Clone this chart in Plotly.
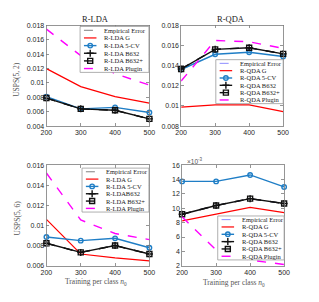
import plotly.graph_objects as go

# ---------------- data ----------------
n_train = [200, 300, 400, 500]
x_ticks = [200, 300, 400, 500]

# R-LDA, USPS(5, 2)
lda52_emp = [0.0079, 0.0064, 0.0062, 0.0050]
lda52_g = [0.0120, 0.0095, 0.0081, 0.0072]
lda52_cv = [0.0081, 0.0064, 0.0066, 0.0059]
lda52_b632 = [0.0079, 0.0064, 0.0062, 0.0050]
lda52_b632p = [0.0079, 0.0064, 0.0062, 0.0050]
lda52_plugin = [0.0175, 0.0138, 0.0113, 0.0097]

# R-QDA, USPS(5, 2)
qda52_emp = [0.01368, 0.01563, 0.01579, 0.01518]
qda52_g = [0.00988, 0.0101, 0.0101, 0.00943]
qda52_cv = [0.01362, 0.01514, 0.01534, 0.01492]
qda52_b632 = [0.01368, 0.01563, 0.01579, 0.01518]
qda52_b632p = [0.01368, 0.01563, 0.01579, 0.01518]
qda52_plugin = [0.01248, 0.01651, 0.01638, 0.01573]

# R-LDA, USPS(5, 6)
lda56_emp = [0.00824, 0.00733, 0.00801, 0.00717]
lda56_g = [0.01061, 0.00717, 0.00678, 0.00649]
lda56_cv = [0.00886, 0.00850, 0.00873, 0.00779]
lda56_b632 = [0.00824, 0.00733, 0.00801, 0.00717]
lda56_b632p = [0.00824, 0.00733, 0.00801, 0.00717]
lda56_plugin = [0.01522, 0.01055, 0.00921, 0.00860]

# R-QDA, USPS(5, 6)  (x 10^-3)
qda56_emp = [9.17, 10.39, 11.34, 10.66]
qda56_g = [8.26, 9.20, 10.12, 9.39]
qda56_cv = [13.74, 13.74, 14.64, 12.97]
qda56_b632 = [9.17, 10.39, 11.34, 10.66]
qda56_b632p = [9.17, 10.39, 11.34, 10.66]
qda56_plugin = [8.81, 4.20, 2.80, 2.18]

lda52_ticks = [0.004, 0.006, 0.008, 0.01, 0.012, 0.014, 0.016, 0.018]
qda52_ticks = [0.008, 0.01, 0.012, 0.014, 0.016, 0.018]
lda56_ticks = [0.006, 0.008, 0.01, 0.012, 0.014, 0.016]
qda56_ticks = [2, 4, 6, 8, 10, 12, 14, 16]

lda_names = ["Empirical Error", "R-LDA G", "R-LDA 5-CV", "R-LDA B632", "R-LDA B632+", "R-LDA Plugin"]
lda56_names = ["Empirical Error", "R-LDA G", "R-LDA 5-CV", "R-LDAB632", "R-LDA B632+", "R-LDA Plugin"]
qda_names = ["Empirical Error", "R-QDA G", "R-QDA 5-CV", "R-QDA B632", "R-QDA B632+", "R-QDA Plugin"]

# ---------------- styling ----------------
W, H = 319, 302
BLUE = "#1f7ec6"
SERIF = "Liberation Serif"
SANS = "Liberation Sans"
AXC = "#7a7a7a"


def styles(emp_color):
    return [
        dict(color=emp_color, dash="dash", width=1.0, symbol=None),
        dict(color="#ff0000", dash="solid", width=1.2, symbol=None),
        dict(color=BLUE, dash="solid", width=1.4, symbol="circle-open", size=4.5),
        dict(color="#111111", dash="solid", width=1.4, symbol="cross-thin-open", size=5),
        dict(color="#111111", dash="dash", width=1.4, symbol="square-open", size=5),
        dict(color="#ff00ff", dash="dash", width=1.4, symbol=None),
    ]


panels = [
    dict(series=[lda52_emp, lda52_g, lda52_cv, lda52_b632, lda52_b632p, lda52_plugin],
         names=lda_names, emp="#808080", ticks=lda52_ticks, yr=[0.004, 0.018],
         box=(42, 22, 149, 125), leg=(77, 23, 148.5, 70)),
    dict(series=[qda52_emp, qda52_g, qda52_cv, qda52_b632, qda52_b632p, qda52_plugin],
         names=qda_names, emp="#8c8cff", ticks=qda52_ticks, yr=[0.008, 0.018],
         box=(182, 22, 288, 125), leg=(218, 57, 288, 102)),
    dict(series=[lda56_emp, lda56_g, lda56_cv, lda56_b632, lda56_b632p, lda56_plugin],
         names=lda56_names, emp="#808080", ticks=lda56_ticks, yr=[0.006, 0.016],
         box=(42, 165, 149, 268), leg=(79, 168, 148.5, 213)),
    dict(series=[qda56_emp, qda56_g, qda56_cv, qda56_b632, qda56_b632p, qda56_plugin],
         names=qda_names, emp="#8c8cff", ticks=qda56_ticks, yr=[2, 16],
         box=(183, 165, 289, 268), leg=(220, 217, 289, 262)),
]

fig = go.Figure()
layout = dict(width=W, height=H, margin=dict(l=0, r=0, t=0, b=0),
              paper_bgcolor="white", plot_bgcolor="rgba(0,0,0,0)",
              showlegend=False, annotations=[])


def fmt(v):
    return ("%.4f" % v).rstrip("0").rstrip(".")


for i, p in enumerate(panels):
    k = i + 1
    xa = "x" if k == 1 else "x%d" % k
    ya = "y" if k == 1 else "y%d" % k
    x0, y0, x1, y1 = p["box"]
    st = styles(p["emp"])
    for vals, name, s in zip(p["series"], p["names"], st):
        mode = "lines+markers" if s["symbol"] else "lines"
        tr = go.Scatter(x=n_train, y=vals, mode=mode, name=name, xaxis=xa, yaxis=ya,
                        line=dict(color=s["color"], dash=s["dash"], width=s["width"]),
                        cliponaxis=False)
        if s["symbol"]:
            tr.marker = dict(symbol=s["symbol"], size=s["size"], color=s["color"],
                             line=dict(color=s["color"], width=1.4))
        fig.add_trace(tr)
    axcommon = dict(showline=True, linecolor=AXC, linewidth=0.8, mirror="ticks",
                    ticks="inside", ticklen=3, tickcolor=AXC, tickwidth=0.8,
                    showgrid=False, zeroline=False, fixedrange=True,
                    tickfont=dict(family=SANS, size=7, color="#262626"))
    layout["xaxis" if k == 1 else "xaxis%d" % k] = dict(
        domain=[x0 / W, x1 / W], range=[200, 500], anchor=ya,
        tickvals=x_ticks, ticktext=[str(t) for t in x_ticks], **axcommon)
    tt = [fmt(t) for t in p["ticks"]] if k != 4 else [str(t) for t in p["ticks"]]
    layout["yaxis" if k == 1 else "yaxis%d" % k] = dict(
        domain=[1 - y1 / H, 1 - y0 / H], range=p["yr"], anchor=xa,
        tickvals=p["ticks"], ticktext=tt, **axcommon)

# overlay pixel axis for legends / labels
layout["xaxis5"] = dict(domain=[0, 1], range=[0, W], anchor="y5", visible=False, fixedrange=True)
layout["yaxis5"] = dict(domain=[0, 1], range=[H, 0], anchor="x5", visible=False, fixedrange=True)

for p in panels:
    lx0, ly0, lx1, ly1 = p["leg"]
    fig.add_trace(go.Scatter(x=[lx0, lx1, lx1, lx0, lx0], y=[ly0, ly0, ly1, ly1, ly0],
                             mode="lines", fill="toself", fillcolor="white",
                             line=dict(color="#9a9a9a", width=0.8),
                             xaxis="x5", yaxis="y5", hoverinfo="skip"))
    st = styles(p["emp"])
    rh = (ly1 - ly0) / len(p["names"])
    for j, (name, s) in enumerate(zip(p["names"], st)):
        yc = ly0 + (j + 0.5) * rh
        fig.add_trace(go.Scatter(x=[lx0 + 4, lx0 + 17], y=[yc, yc], mode="lines",
                                 line=dict(color=s["color"], dash=s["dash"], width=s["width"]),
                                 xaxis="x5", yaxis="y5", hoverinfo="skip"))
        if s["symbol"]:
            fig.add_trace(go.Scatter(x=[lx0 + 10.5], y=[yc], mode="markers",
                                     marker=dict(symbol=s["symbol"], size=s["size"], color=s["color"],
                                                 line=dict(color=s["color"], width=1.4)),
                                     xaxis="x5", yaxis="y5", hoverinfo="skip"))
        layout["annotations"].append(dict(
            x=lx0 + 23, y=yc, xref="x5", yref="y5", text=name, showarrow=False,
            xanchor="left", yanchor="middle",
            font=dict(family=SERIF, size=6.5, color="#222222")))

texts = [
    dict(x=93, y=15, text="R-LDA", size=8.5, angle=0, family=SERIF, color="#222222", xa="center"),
    dict(x=234, y=15, text="R-QDA", size=8.5, angle=0, family=SERIF, color="#222222", xa="center"),
    dict(x=11, y=77, text="USPS(5, 2)", size=7.5, angle=-90, family=SERIF, color="#555555", xa="center"),
    dict(x=12, y=219, text="USPS(5, 6)", size=7.5, angle=-90, family=SERIF, color="#555555", xa="center"),
    dict(x=94, y=285, text="Training per class <i>n</i><sub>0</sub>", size=7.5, angle=0, family=SERIF,
         color="#555555", xa="center"),
    dict(x=237, y=286, text="Training per class <i>n</i><sub>0</sub>", size=7.5, angle=0, family=SERIF,
         color="#555555", xa="center"),
    dict(x=186, y=161, text="×10<sup>-3</sup>", size=6.5, angle=0, family=SANS, color="#555555", xa="left"),
]
for t in texts:
    layout["annotations"].append(dict(
        x=t["x"], y=t["y"], xref="x5", yref="y5", text=t["text"], showarrow=False,
        xanchor=t["xa"], yanchor="middle", textangle=t["angle"],
        font=dict(family=t["family"], size=t["size"], color=t["color"])))

fig.update_layout(**layout)
fig.write_html("out.html", config={"displayModeBar": False, "staticPlot": True},
               post_script="document.body.style.margin='0';document.body.style.overflow='hidden';")
